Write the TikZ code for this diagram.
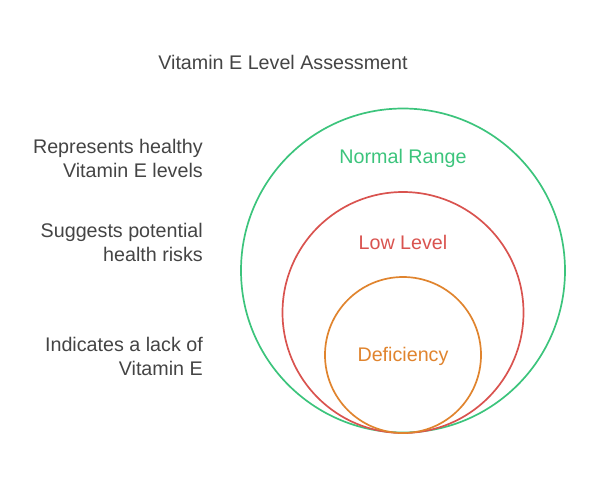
\documentclass[tikz,border=0pt]{standalone}
\usepackage{fontspec}
\setmainfont{Liberation Sans}
\definecolor{txt}{HTML}{444444}
\definecolor{cgreen}{HTML}{3CC47C}
\definecolor{cred}{HTML}{D9534F}
\definecolor{corange}{HTML}{E0842E}
\tikzset{
  ring/.style={draw, line width=1.7pt, fill=none},
  lbl/.style={font=\fontsize{19.7}{24}\selectfont, inner sep=0pt},
  side/.style={lbl, text=txt, align=right, anchor=east}
}
\begin{document}
\begin{tikzpicture}[x=1pt,y=-1pt]
\useasboundingbox (0,0) rectangle (590,483);
\draw[ring, cgreen] (403,270.5) circle (162);
\draw[ring, cred] (403,312.5) circle (120.5);
\draw[ring, corange] (403,355) circle (78);
\node[lbl, text=txt] (title) at (283,62) {Vitamin E Level Assessment};
\node[lbl, text=cgreen] (normal) at (403,158.5) {Normal Range};
\node[lbl, text=cred] (low) at (403,242.5) {Low Level};
\node[lbl, text=corange] (def) at (403,356.5) {Deficiency};
\node[side] (d1) at (203,158) {Represents healthy\\Vitamin E levels};
\node[side] (d2) at (203,242) {Suggests potential\\health risks};
\node[side] (d3) at (203,356) {Indicates a lack of\\Vitamin E};
\end{tikzpicture}
\end{document}
